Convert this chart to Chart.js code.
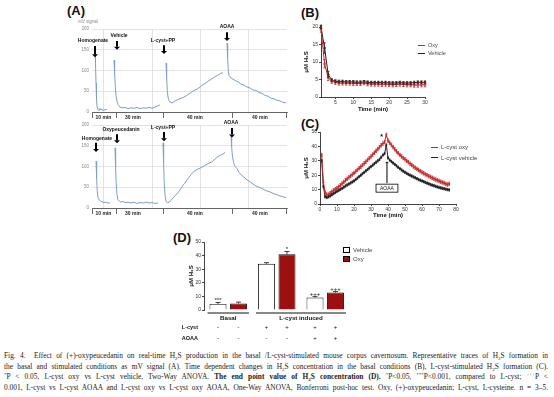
<!DOCTYPE html>
<html>
<head>
<meta charset="utf-8">
<script src="https://cdn.jsdelivr.net/npm/chart.js@4.4.1/dist/chart.umd.min.js"></script>
<style>
body { margin:0; background:#fff; width:554px; height:397px; overflow:hidden; position:relative; font-family:"Liberation Sans", Arial, sans-serif; }
canvas { position:absolute; }
.panel { position:absolute; font-weight:bold; font-size:13px; line-height:13px; color:#111; }
.leg { position:absolute; font-size:5.5px; line-height:6px; color:#444; white-space:nowrap; }
.leg .ln { display:inline-block; width:7px; height:1px; vertical-align:middle; margin-right:3px; }
.leg .bx { display:inline-block; width:5px; height:4px; border:0.8px solid #000; vertical-align:middle; margin-right:3px; }
.small { position:absolute; font-size:4.5px; color:#888; white-space:nowrap; }
.caption { position:absolute; left:4px; top:351px; width:544px; font-family:"Liberation Serif", "DejaVu Serif", serif; font-size:7.4px; line-height:10.7px; color:#222; }
.caption div { text-align:justify; text-align-last:justify; height:10.7px; overflow:hidden; }
.caption sub, .caption sup { font-size:5px; line-height:0; }
</style>
</head>
<body>

<div class="panel" style="left:67px;top:4px">(A)</div>
<div class="panel" style="left:301px;top:6px">(B)</div>
<div class="panel" style="left:301px;top:117px">(C)</div>
<div class="panel" style="left:173px;top:231px">(D)</div>
<div class="small" style="left:78px;top:19px">mV signal</div>

<canvas id="aTop" width="240" height="110" style="left:50px;top:15px"></canvas>
<canvas id="aBot" width="240" height="112" style="left:50px;top:112px"></canvas>
<canvas id="bChart" width="155" height="99" style="left:300px;top:15px"></canvas>
<canvas id="cChart" width="170" height="100" style="left:300px;top:120px"></canvas>
<canvas id="dChart" width="185" height="117" style="left:170px;top:228px"></canvas>

<div class="leg" style="left:418px;top:42px"><span class="ln" style="background:#c62828"></span>Oxy</div>
<div class="leg" style="left:418px;top:50px"><span class="ln" style="background:#222"></span>Vehicle</div>
<div class="leg" style="left:431px;top:144px;font-size:6px"><span class="ln" style="background:#c62828"></span>L-cyst oxy</div>
<div class="leg" style="left:431px;top:154.5px;font-size:6px"><span class="ln" style="background:#222"></span>L-cyst vehicle</div>
<div class="leg" style="left:343px;top:247px;font-size:6px"><span class="bx" style="background:#fff"></span>Vehicle</div>
<div class="leg" style="left:343px;top:256px;font-size:6px"><span class="bx" style="background:#9c1010"></span>Oxy</div>

<div class="caption">
<div>Fig. 4. &nbsp;Effect of (+)-oxypeucedanin on real-time H<sub>2</sub>S production in the basal /L-cyst-stimulated mouse corpus cavernosum. Representative traces of H<sub>2</sub>S formation in</div>
<div>the basal and stimulated conditions as mV signal (A). Time dependent changes in H<sub>2</sub>S concentration in the basal conditions (B), L-cyst-stimulated H<sub>2</sub>S formation (C).</div>
<div><sup>*</sup>P &lt; 0.05, L-cyst oxy vs L-cyst vehicle, Two-Way ANOVA. <b>The end point value of H<sub>2</sub>S concentration (D).</b> <sup>*</sup>P&lt;0.05, <sup>***</sup>P&lt;0.001, compared to L-cyst; <sup>+++</sup>P &lt;</div>
<div>0.001, L-cyst vs L-cyst AOAA and L-cyst oxy vs L-cyst oxy AOAA, One-Way ANOVA, Bonferroni post-hoc test. Oxy, (+)-oxypeucedanin; L-cyst, L-cysteine. n = 3–5.</div>
</div>

<script>
// ---- panel A: raw traces, [trace position, mV] ----
const topHomogenate = [[5,145],[5.5,118],[6,70],[6.5,32],[7,14],[8,6],[9,3],[10,9],[11,5],[12,7],[13,3],[14,6],[15,4],[16,7],[17,5]];
const topVehicle = [[24,125],[24.6,95],[25.3,62],[26,40],[27,26],[28,18],[30,12],[32,10],[35,11],[38,8],[41,10],[44,9],[47,11],[50,8],[53,10],[56,9],[59,11],[62,9],[65,12],[68,15],[70,17]];
const topLcyst = [[76,118],[76.6,85],[77.3,52],[78,36],[79,28],[80,24],[82,22],[84,25],[86,28],[89,31],[92,34],[95,37],[98,42],[101,47],[104,52],[107,55],[110,60],[113,66],[116,70],[119,76],[122,80],[125,85],[128,89],[130,92],[133,95]];
const topAOAA = [[137,166],[137.6,130],[138.3,100],[139,88],[141,82],[143,79],[145,76],[148,73],[151,67],[154,65],[157,60],[160,58],[163,53],[166,52],[169,47],[172,45],[175,40],[178,38],[181,33],[184,32],[187,28],[190,27],[193,23],[196,22]];

const botHomogenate = [[6,113],[6.6,75],[7.2,42],[8,26],[9,20],[10.5,17],[12,15],[14,13],[16,14],[18,12],[20,12]];
const botOxy = [[25,145],[25.6,100],[26.2,58],[27,32],[28,20],[29.5,16],[31,14],[33,16],[35,13],[38,14],[41,12],[44,14],[47,11],[50,13],[53,12],[56,14],[59,12],[62,13],[65,11],[68,12]];
const botLcyst = [[73,157],[73.6,110],[74.2,62],[75,32],[76,16],[77.5,12],[79,14],[81,18],[83,24],[85,30],[87,34],[89,40],[91,47],[93,55],[95,60],[97,68],[99,74],[101,80],[103,86],[105,90],[107,93],[110,96],[113,100],[116,104],[119,108],[122,111],[125,118],[128,124],[131,128],[133,130],[135,134]];
const botAOAA = [[141,176],[141.6,150],[142.3,128],[143.5,110],[145,100],[147,95],[149,86],[151,80],[154,74],[157,68],[160,63],[163,58],[166,53],[169,50],[172,47],[175,43],[178,40],[181,38],[184,34],[187,32],[190,29],[193,27],[196,25]];

const aGridTicks = [13, 62, 110, 158];
const aBracketTicks = [2, 26, 73, 142, 196];
const aSegmentTicks = [13.5, 43, 105, 170];
const aSegmentLabels = ["10 min", "30 min", "40 min", "40 min"];
const aYTicks = [0, 50, 100, 150, 200];

// ---- panel B: basal H2S (uM) ----
const bTime = [1,2,3,4,5,6,7,8,9,10,11,12,13,14,15,16,17,18,19,20,21,22,23,24,25,26,27,28,29,30];
const bOxy = [19.5,9.5,5.5,4.5,4.2,4.0,4.0,4.0,4.0,3.9,3.9,3.9,4.1,3.8,3.7,3.7,3.7,3.6,3.7,3.6,3.5,3.6,3.7,3.6,3.5,3.5,3.4,3.4,3.5,3.5];
const bOxyErr = [1.0,1.2,0.8,0.6,0.6,0.6,0.6,0.6,0.6,0.6,0.6,0.6,0.6,0.6,0.6,0.6,0.6,0.6,0.6,0.6,0.6,0.6,0.6,0.6,0.6,0.6,0.6,0.6,0.6,0.6];
const bVehicle = [20,14,6.5,4.8,4.5,4.4,4.4,4.3,4.3,4.3,4.2,4.2,4.3,4.2,4.1,4.1,4.1,4.1,4.1,4.0,4.0,4.0,4.1,4.0,4.0,4.0,4.1,4.2,4.2,4.2];
const bVehicleErr = [0.5,1.5,0.8,0.4,0.4,0.4,0.4,0.4,0.4,0.4,0.4,0.4,0.4,0.4,0.4,0.4,0.4,0.4,0.4,0.4,0.4,0.4,0.4,0.4,0.4,0.4,0.4,0.4,0.4,0.4];
const bXTicks = [5, 10, 15, 20, 25, 30];

// ---- panel C: L-cyst stimulated H2S (uM) ----
const cTime = [1,2,3,4,5,6,7,8,9,10,11,12,13,14,15,16,17,18,19,20,21,22,23,24,25,26,27,28,29,30,31,32,33,34,35,36,37,38,39,40,41,42,43,44,45,46,47,48,49,50,51,52,53,54,55,56,57,58,59,60,61,62,63,64,65,66,67,68,69,70,71,72,73,74,75,76];
const cOxy = [34,15,8,6.5,6.5,7.5,8.5,9.5,10.2,11,12,13,14.2,15.3,16.5,17.5,18.5,19.5,20.5,21.5,22.6,23.7,24.8,25.9,27,28.2,29.4,30.6,31.8,33,34.3,35.6,36.9,38.2,39.5,40.8,42,43,48,44,42.5,41,39.5,38,36.5,35.3,34.1,33,32,31,30,29,28,27,26,25.2,24.4,23.6,22.8,22,21.3,20.6,20,19.4,18.8,18.2,17.6,17,16.5,16,15.5,15,14.5,14,13.5,14];
const cVehicle = [30,12,5,4.5,5,5.6,6.4,7.2,8,8.8,9.5,10.2,10.9,11.7,12.5,13.2,13.9,14.6,15.3,16,17,18,19,20,21,22,23,24,25,26,27,28,29,30,31,32.5,34,35,41,32,30.5,29.5,28.5,27.5,26.5,25.5,24.5,23.6,22.8,22,21.3,20.6,20,19.4,18.8,18.2,17.6,17,16.5,16,15.5,15,14.5,14,13.5,13.1,12.7,12.3,11.9,11.5,11.2,10.9,10.6,10.3,10,9.8];
const cOxyErr = 1.2;
const cVehicleErr = 0.8;

// ---- panel D: end point values (uM) ----
const dGroups = ["Basal", "L-cyst", "L-cyst + AOAA"];
const dVehicle = [4.5, 34, 9.2];
const dVehicleErr = [1.0, 0.8, 0.8];
const dOxy = [4.8, 41, 12.8];
const dOxyErr = [1.0, 2.0, 0.8];
const dVehicleSig = ["***", "", "+++"];
const dOxySig = ["", "*", "+++"];
const dLcystRow = ["-", "-", "+", "+", "+", "+"];
const dAoaaRow = ["-", "-", "-", "-", "+", "+"];

Chart.defaults.font.family = '"Liberation Sans", Arial, sans-serif';
Chart.defaults.color = "#333";
Chart.defaults.animation = false;
Chart.defaults.plugins.legend.display = false;
Chart.defaults.plugins.tooltip.enabled = false;

const traceColor = "#7e9ecb";
const oxyRed = "#c62828";

function fixSize(size) {
	return function (scale) {
		if (scale.isHorizontal()) scale.height = size;
		else scale.width = size;
	};
}

function toPoints(pairs) {
	return pairs.map(function (p) { return { x: p[0], y: p[1] }; });
}

function zip(xs, ys) {
	return xs.map(function (x, i) { return { x: x, y: ys[i] }; });
}

// text, arrows and boxes placed in data units
const notesPlugin = {
	id: "notes",
	afterDatasetsDraw(chart, args, opts) {
		const ctx = chart.ctx;
		const xs = chart.scales.x, ys = chart.scales.y;
		(opts.items || []).forEach(function (it) {
			const px = xs.getPixelForValue(it.x);
			ctx.save();
			if (it.type === "arrow") {
				const y1 = ys.getPixelForValue(it.from), y2 = ys.getPixelForValue(it.to);
				const dir = y2 > y1 ? 1 : -1;
				const head = it.head || 3;
				ctx.strokeStyle = ctx.fillStyle = "#000";
				ctx.lineWidth = it.width || 2;
				ctx.beginPath();
				ctx.moveTo(px, y1);
				ctx.lineTo(px, y2 - dir * head);
				ctx.stroke();
				ctx.beginPath();
				ctx.moveTo(px - head, y2 - dir * head);
				ctx.lineTo(px + head, y2 - dir * head);
				ctx.lineTo(px, y2);
				ctx.closePath();
				ctx.fill();
			} else {
				const py = ys.getPixelForValue(it.y);
				ctx.font = it.font || 'bold 5px "Liberation Sans"';
				ctx.fillStyle = "#111";
				ctx.textAlign = "center";
				ctx.textBaseline = "middle";
				ctx.fillText(it.text, px, py);
				if (it.type === "box") {
					const w = ctx.measureText(it.text).width + 8;
					const h = 8;
					ctx.lineWidth = 0.8;
					ctx.strokeStyle = "#000";
					ctx.strokeRect(px - w / 2, py - h / 2, w, h);
				}
			}
			ctx.restore();
		});
	},
};

const errorBarPlugin = {
	id: "errorBars",
	afterDatasetsDraw(chart) {
		const ctx = chart.ctx, ys = chart.scales.y;
		chart.data.datasets.forEach(function (ds, di) {
			if (ds.errors === undefined) return;
			const meta = chart.getDatasetMeta(di);
			meta.data.forEach(function (el, i) {
				const raw = ds.data[i];
				const v = typeof raw === "object" ? raw.y : raw;
				const e = Array.isArray(ds.errors) ? ds.errors[i] : ds.errors;
				if (!e) return;
				const top = ys.getPixelForValue(v + e);
				const bot = ds.errorUpOnly ? el.y : ys.getPixelForValue(v - e);
				const cap = ds.errorCap || 1.2;
				ctx.save();
				ctx.strokeStyle = ds.errorColor || ds.borderColor;
				ctx.lineWidth = 0.8;
				ctx.beginPath();
				ctx.moveTo(el.x, bot);
				ctx.lineTo(el.x, top);
				ctx.moveTo(el.x - cap, top);
				ctx.lineTo(el.x + cap, top);
				if (!ds.errorUpOnly) {
					ctx.moveTo(el.x - cap, bot);
					ctx.lineTo(el.x + cap, bot);
				}
				ctx.stroke();
				ctx.restore();
			});
		});
	},
};

// significance marks, group brackets and +/- rows under the bars
const barLabelPlugin = {
	id: "barLabels",
	afterDatasetsDraw(chart, args, opts) {
		const ctx = chart.ctx, ys = chart.scales.y, area = chart.chartArea;
		const bars = [];
		chart.data.labels.forEach(function (lab, gi) {
			chart.data.datasets.forEach(function (ds, di) {
				bars.push({ el: chart.getDatasetMeta(di).data[gi], ds: ds, i: gi });
			});
		});
		ctx.save();
		ctx.fillStyle = "#111";
		ctx.strokeStyle = "#111";
		ctx.textAlign = "center";
		ctx.textBaseline = "bottom";
		ctx.font = '6px "Liberation Sans"';
		bars.forEach(function (b) {
			const s = b.ds.sig[b.i];
			if (!s) return;
			ctx.fillText(s, b.el.x, ys.getPixelForValue(b.ds.data[b.i] + b.ds.errors[b.i]) + 0.5);
		});
		ctx.textBaseline = "middle";
		ctx.font = 'bold 6.2px "Liberation Sans"';
		ctx.lineWidth = 1;
		opts.groups.forEach(function (g) {
			const a = bars[g.first].el, z = bars[g.last].el;
			const x1 = a.x - a.width / 2 - 2, x2 = z.x + z.width / 2 + 2;
			ctx.beginPath();
			ctx.moveTo(x1, area.bottom + 3);
			ctx.lineTo(x2, area.bottom + 3);
			ctx.stroke();
			ctx.fillText(g.label, (x1 + x2) / 2, area.bottom + 8);
		});
		opts.rows.forEach(function (r, ri) {
			const y = area.bottom + 17 + ri * 11;
			ctx.font = 'bold 5.5px "Liberation Sans"';
			ctx.textAlign = "right";
			ctx.fillText(r.label, area.left - 6, y);
			ctx.textAlign = "center";
			ctx.font = '6px "Liberation Sans"';
			r.marks.forEach(function (m, k) {
				ctx.fillText(m, bars[k].el.x, y);
			});
		});
		ctx.restore();
	},
};

function traceConfig(segments, marks, padTop, xHeight) {
	return {
		type: "line",
		data: {
			datasets: segments.map(function (seg) {
				return { data: toPoints(seg), borderColor: traceColor, borderWidth: 1, pointRadius: 0, tension: 0 };
			}),
		},
		options: {
			responsive: false,
			layout: { padding: { top: padTop, right: 3 } },
			scales: {
				x: {
					type: "linear",
					min: 2,
					max: 197,
					afterFit: fixSize(xHeight),
					afterBuildTicks: function (s) {
						s.ticks = aGridTicks.concat(aBracketTicks, aSegmentTicks).map(function (v) { return { value: v }; });
					},
					border: { display: true, color: "#444", width: 0.8 },
					grid: {
						color: function (c) { return c.tick && aGridTicks.includes(c.tick.value) ? "#dcdcdc" : "rgba(0,0,0,0)"; },
						tickColor: function (c) { return c.tick && aBracketTicks.includes(c.tick.value) ? "#444" : "rgba(0,0,0,0)"; },
						tickLength: 6,
						lineWidth: 0.8,
					},
					ticks: {
						autoSkip: false,
						maxRotation: 0,
						padding: -3,
						font: { size: 5, weight: "bold" },
						color: "#222",
						callback: function (v) {
							const k = aSegmentTicks.indexOf(v);
							return k >= 0 ? aSegmentLabels[k] : "";
						},
					},
				},
				y: {
					min: 0,
					max: 200,
					afterFit: fixSize(42),
					afterBuildTicks: function (s) {
						s.ticks = aYTicks.map(function (v) { return { value: v }; });
					},
					border: { display: false },
					grid: { color: "#dcdcdc", lineWidth: 0.8, drawTicks: false },
					ticks: { font: { size: 4.5 }, color: "#888", padding: 3 },
				},
			},
			plugins: { notes: { items: marks } },
		},
		plugins: [notesPlugin],
	};
}

const aTopMarks = [
	{ type: "text", x: 3, y: 171, text: "Homogenate" },
	{ type: "arrow", x: 5, from: 159, to: 132 },
	{ type: "text", x: 29, y: 185, text: "Vehicle" },
	{ type: "arrow", x: 27, from: 171, to: 150 },
	{ type: "text", x: 73, y: 173, text: "L-cyst+PP" },
	{ type: "arrow", x: 74, from: 161, to: 140 },
	{ type: "text", x: 137, y: 205, text: "AOAA" },
	{ type: "arrow", x: 137, from: 192, to: 171 },
];
const aBotMarks = [
	{ type: "text", x: 7, y: 166, text: "Homogenate" },
	{ type: "arrow", x: 6, from: 157, to: 135 },
	{ type: "text", x: 31, y: 190, text: "Oxypeucedanin" },
	{ type: "arrow", x: 27, from: 178, to: 156 },
	{ type: "text", x: 73, y: 193, text: "L-cyst+PP" },
	{ type: "arrow", x: 74, from: 183, to: 161 },
	{ type: "text", x: 141, y: 205, text: "AOAA" },
	{ type: "arrow", x: 142, from: 193, to: 170 },
];

new Chart(document.getElementById("aTop"), traceConfig([topHomogenate, topVehicle, topLcyst, topAOAA], aTopMarks, 14, 13));
new Chart(document.getElementById("aBot"), traceConfig([botHomogenate, botOxy, botLcyst, botAOAA], aBotMarks, 13, 16));

function axisStyle(extra) {
	const base = {
		border: { display: true, color: "#111", width: 0.8 },
		grid: { drawOnChartArea: false, tickLength: 2, tickColor: "#111", lineWidth: 0.8 },
		ticks: { font: { size: 5 }, color: "#333", padding: 1, autoSkip: false, maxRotation: 0 },
	};
	return Object.assign(base, extra);
}

const yTitle = { display: true, text: "μM H₂S", font: { size: 6, weight: "bold" }, color: "#111", padding: { top: 2.4, bottom: 0 } };
const xTitle = { display: true, text: "Time (min)", font: { size: 6, weight: "bold" }, color: "#111", padding: { top: 0, bottom: 1 } };

new Chart(document.getElementById("bChart"), {
	type: "line",
	data: {
		datasets: [
			{ label: "Oxy", data: zip(bTime, bOxy), errors: bOxyErr, borderColor: oxyRed, borderWidth: 1, pointRadius: 1.1, pointStyle: "rect", pointBackgroundColor: "#fff", pointBorderColor: oxyRed, pointBorderWidth: 0.7 },
			{ label: "Vehicle", data: zip(bTime, bVehicle), errors: bVehicleErr, borderColor: "#222", borderWidth: 1, pointRadius: 0.8, pointBackgroundColor: "#222" },
		],
	},
	options: {
		responsive: false,
		clip: false,
		layout: { padding: { top: 12, right: 30 } },
		scales: {
			x: axisStyle({
				type: "linear", min: 1, max: 30, afterFit: fixSize(17), title: xTitle,
				afterBuildTicks: function (s) { s.ticks = bXTicks.map(function (v) { return { value: v }; }); },
			}),
			y: axisStyle({ min: 0, max: 20, afterFit: fixSize(21), title: yTitle }),
		},
	},
	plugins: [errorBarPlugin],
});
Chart.getChart("bChart").options.scales.y.ticks.stepSize = 5;
Chart.getChart("bChart").update();

new Chart(document.getElementById("cChart"), {
	type: "line",
	data: {
		datasets: [
			{ label: "L-cyst oxy", data: zip(cTime, cOxy), errors: cOxyErr, borderColor: oxyRed, borderWidth: 1, pointRadius: 0.6, pointBackgroundColor: oxyRed, errorCap: 0.8 },
			{ label: "L-cyst vehicle", data: zip(cTime, cVehicle), errors: cVehicleErr, borderColor: "#222", borderWidth: 1, pointRadius: 0.6, pointBackgroundColor: "#222", errorCap: 0.8 },
		],
	},
	options: {
		responsive: false,
		clip: false,
		layout: { padding: { top: 12, right: 14 } },
		scales: {
			x: axisStyle({ type: "linear", min: 0, max: 80, afterFit: fixSize(16), title: xTitle }),
			y: axisStyle({ min: 0, max: 50, afterFit: fixSize(20), title: yTitle }),
		},
		plugins: {
			notes: {
				items: [
					{ type: "text", x: 36.3, y: 46.5, text: "*", font: 'bold 7px "Liberation Sans"' },
					{ type: "arrow", x: 39.4, from: 14.5, to: 29.5, width: 1, head: 1.8 },
					{ type: "box", x: 39.4, y: 11, text: "AOAA", font: '5px "Liberation Sans"' },
				],
			},
		},
	},
	plugins: [errorBarPlugin, notesPlugin],
});
Chart.getChart("cChart").options.scales.x.ticks.stepSize = 10;
Chart.getChart("cChart").options.scales.y.ticks.stepSize = 10;
Chart.getChart("cChart").update();

new Chart(document.getElementById("dChart"), {
	type: "bar",
	data: {
		labels: dGroups,
		datasets: [
			{ label: "Vehicle", data: dVehicle, errors: dVehicleErr, sig: dVehicleSig, errorUpOnly: true, errorCap: 2.5, errorColor: "#111", backgroundColor: "#fff", borderColor: "#111", borderWidth: 0.9 },
			{ label: "Oxy", data: dOxy, errors: dOxyErr, sig: dOxySig, errorUpOnly: true, errorCap: 2.5, errorColor: "#111", backgroundColor: "#9c1010", borderColor: "#111", borderWidth: 0.9 },
		],
	},
	options: {
		responsive: false,
		layout: { padding: { top: 14, right: 5.5, bottom: 35 } },
		datasets: { bar: { categoryPercentage: 0.845, barPercentage: 0.83 } },
		scales: {
			x: { display: false },
			y: axisStyle({ min: 0, max: 50, afterFit: fixSize(34), title: Object.assign({}, yTitle, { padding: { top: 17.4, bottom: 0 } }) }),
		},
		plugins: {
			barLabels: {
				groups: [
					{ label: "Basal", first: 0, last: 1 },
					{ label: "L-cyst induced", first: 2, last: 5 },
				],
				rows: [
					{ label: "L-cyst", marks: dLcystRow },
					{ label: "AOAA", marks: dAoaaRow },
				],
			},
		},
	},
	plugins: [errorBarPlugin, barLabelPlugin],
});
Chart.getChart("dChart").options.scales.y.ticks.stepSize = 10;
Chart.getChart("dChart").update();
</script>
</body>
</html>
